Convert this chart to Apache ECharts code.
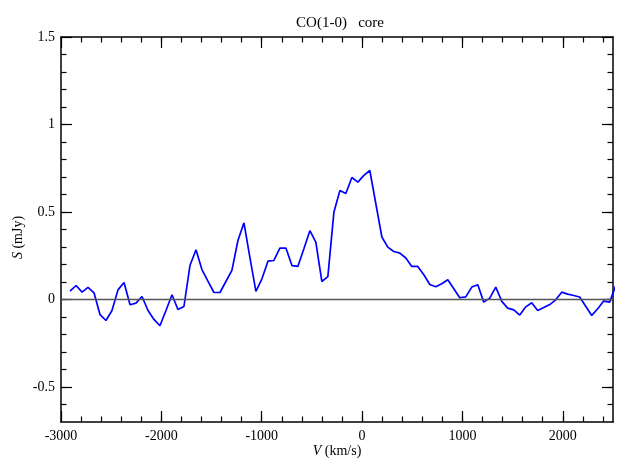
<!DOCTYPE html>
<html>
<head>
<meta charset="utf-8">
<script src="https://cdn.jsdelivr.net/npm/echarts@6/dist/echarts.min.js"></script>
<style>
  html, body { margin: 0; padding: 0; background: #fff; }
  #chart { width: 618px; height: 459px; }
</style>
</head>
<body>
<div id="chart"></div>
<script>
// channel velocities (km/s)
let velocity = [
  -2910, -2850, -2790, -2731, -2671, -2611, -2552, -2492, -2432, -2372,
  -2312, -2253, -2193, -2133, -2074, -2014, -1954, -1894, -1835, -1775,
  -1715, -1655, -1596, -1536, -1476, -1416, -1357, -1297, -1237, -1177,
  -1118, -1058, -998, -938, -879, -819, -759, -699, -640, -580,
  -520, -461, -401, -341, -281, -221, -162, -102, -42, 18,
  77, 137, 197, 256, 316, 376, 436, 495, 555, 615,
  675, 734, 794, 854, 914, 973, 1033, 1093, 1153, 1212,
  1272, 1332, 1392, 1451, 1511, 1571, 1631, 1690, 1750, 1810,
  1870, 1929, 1989, 2049, 2109, 2168, 2228, 2288, 2348, 2407,
  2467, 2527
]
// flux density S (mJy)
let flux = [
  0.048, 0.080, 0.042, 0.069, 0.038, -0.087, -0.120, -0.063, 0.055, 0.097,
  -0.030, -0.021, 0.017, -0.063, -0.114, -0.150, -0.063, 0.027, -0.057, -0.040,
  0.194, 0.284, 0.171, 0.105, 0.040, 0.040, 0.103, 0.166, 0.337, 0.438,
  0.241, 0.046, 0.118, 0.219, 0.223, 0.294, 0.294, 0.194, 0.189, 0.290,
  0.393, 0.328, 0.103, 0.131, 0.499, 0.623, 0.606, 0.697, 0.671, 0.709,
  0.737, 0.547, 0.357, 0.299, 0.274, 0.265, 0.237, 0.189, 0.189, 0.141,
  0.086, 0.073, 0.090, 0.113, 0.061, 0.010, 0.015, 0.071, 0.084, -0.015,
  0.008, 0.071, -0.011, -0.049, -0.059, -0.089, -0.042, -0.019, -0.063, -0.046,
  -0.029, -0.002, 0.042, 0.031, 0.023, 0.014, -0.039, -0.091, -0.053, -0.009,
  -0.015, 0.080
]
let xMajorTicks = [-3000, -2000, -1000, 0, 1000, 2000]
let yMajorTicks = [-0.5, 0, 0.5, 1, 1.5]

let xMin = -3000, xMax = 2500, yMin = -0.7, yMax = 1.5

// minor tick positions: every 200 km/s and every 0.1 mJy
let xMinorTicks = []
for (let v = -2800; v < xMax; v += 200) xMinorTicks.push(v)
let yMinorTicks = []
for (let i = -6; i < 15; i++) yMinorTicks.push(Math.round(i * 10) / 100)

let font = "'Liberation Serif', 'DejaVu Serif', serif"
let box = { left: 61, right: 5, top: 37, bottom: 37, outerBoundsMode: 'none', containLabel: false }

function xAxisDef (gridIndex, position, ticks, len, withLabels) {
  return {
    type: 'value',
    gridIndex: gridIndex,
    position: position,
    min: xMin,
    max: xMax,
    axisLine: { show: len > 6, onZero: false, lineStyle: { color: '#000', width: 1.5 } },
    axisTick: { inside: true, length: len, customValues: ticks, lineStyle: { color: '#000', width: 1.2 } },
    axisLabel: withLabels ? {
      customValues: ticks,
      formatter: v => String(v),
      margin: 7,
      color: '#000',
      fontFamily: font,
      fontSize: 14
    } : { show: false },
    splitLine: { show: false }
  }
}

function yAxisDef (gridIndex, position, ticks, len, withLabels) {
  return {
    type: 'value',
    gridIndex: gridIndex,
    position: position,
    min: yMin,
    max: yMax,
    axisLine: { show: len > 6, onZero: false, lineStyle: { color: '#000', width: 1.5 } },
    axisTick: { inside: true, length: len, customValues: ticks, lineStyle: { color: '#000', width: 1.2 } },
    axisLabel: withLabels ? {
      customValues: ticks,
      formatter: v => String(v),
      margin: 6,
      color: '#000',
      fontFamily: font,
      fontSize: 14
    } : { show: false },
    splitLine: { show: false }
  }
}

let xAxes = [
  xAxisDef(0, 'bottom', xMajorTicks, 11, true),
  xAxisDef(0, 'top', xMajorTicks, 11, false),
  xAxisDef(1, 'bottom', xMinorTicks, 5.5, false),
  xAxisDef(1, 'top', xMinorTicks, 5.5, false)
]
Object.assign(xAxes[0], {
  name: '{i|V} (km/s)',
  nameLocation: 'middle',
  nameGap: 22,
  nameMoveOverlap: false,
  nameTextStyle: {
    color: '#000', fontFamily: font, fontSize: 14,
    rich: { i: { fontStyle: 'italic', fontFamily: font, fontSize: 14, color: '#000' } }
  }
})

let yAxes = [
  yAxisDef(0, 'left', yMajorTicks, 11, true),
  yAxisDef(0, 'right', yMajorTicks, 11, false),
  yAxisDef(1, 'left', yMinorTicks, 5.5, false),
  yAxisDef(1, 'right', yMinorTicks, 5.5, false)
]
Object.assign(yAxes[0], {
  name: '{i|S} (mJy)',
  nameLocation: 'middle',
  nameGap: 36,
  nameRotate: 90,
  nameMoveOverlap: false,
  nameTextStyle: {
    color: '#000', fontFamily: font, fontSize: 14,
    padding: [0, 16, 0, 0],
    rich: { i: { fontStyle: 'italic', fontFamily: font, fontSize: 14, color: '#000' } }
  }
})

let option = {
  backgroundColor: '#fff',
  animation: false,
  title: {
    text: 'CO(1-0)   core',
    left: 335,
    top: 11,
    textAlign: 'center',
    textStyle: { color: '#000', fontFamily: font, fontSize: 15, fontWeight: 'normal' }
  },
  grid: [
    Object.assign({}, box),
    Object.assign({}, box)
  ],
  xAxis: xAxes,
  yAxis: yAxes,
  series: [{
    type: 'line',
    xAxisIndex: 0,
    yAxisIndex: 0,
    data: velocity.map((v, i) => [v, flux[i]]),
    symbol: 'none',
    clip: true,
    lineStyle: { color: '#0000ff', width: 1.7 },
    markLine: {
      silent: true,
      symbol: ['none', 'none'],
      label: { show: false },
      lineStyle: { color: '#555', width: 1.3, type: 'solid' },
      data: [{ yAxis: 0 }]
    }
  }]
}

let chart = echarts.init(document.getElementById('chart'), null, { renderer: 'canvas' })
chart.setOption(option)
</script>
</body>
</html>
